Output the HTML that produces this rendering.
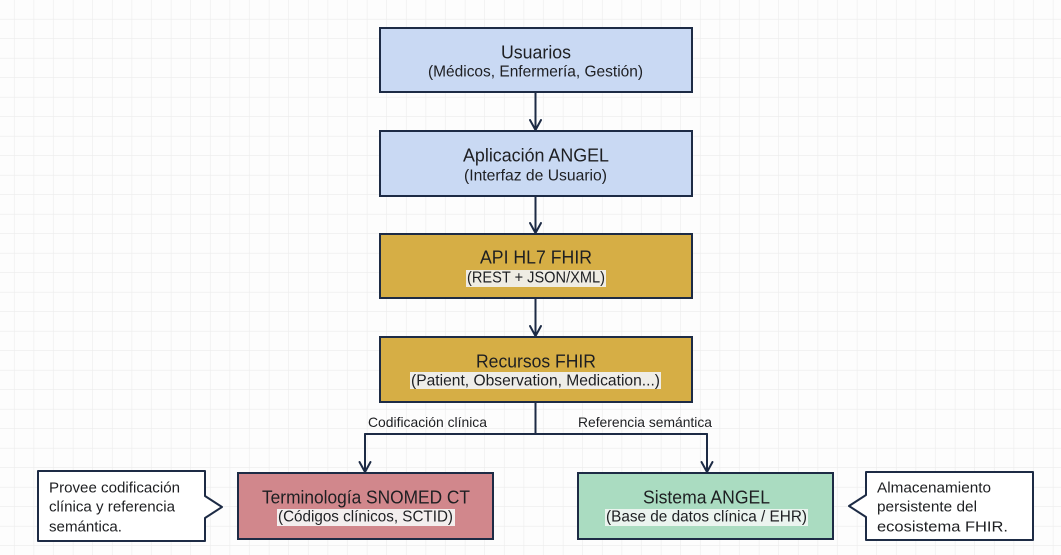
<!DOCTYPE html>
<html>
<head>
<meta charset="utf-8">
<style>
html,body{margin:0;padding:0;background:#fff;}
svg{display:block;}
text{font-family:"Liberation Sans","DejaVu Sans",sans-serif;fill:#1e1f22;}
</style>
</head>
<body>
<svg width="1061" height="555" viewBox="0 0 1061 555" xmlns="http://www.w3.org/2000/svg">
<defs>
<pattern id="g" x="-5" y="0" width="19.6" height="19.5" patternUnits="userSpaceOnUse">
<path d="M19.6 0 V19.5 M0 19.5 H19.6" stroke="#ececec" stroke-width="1.2" fill="none"/>
</pattern>
</defs>
<rect width="1061" height="555" fill="#fdfdfd"/>
<rect width="1061" height="555" fill="url(#g)"/>

<g stroke="#1d2b45" stroke-width="2" fill="none" stroke-linejoin="round" stroke-linecap="round">
<line x1="535.5" y1="92" x2="535.5" y2="130"/>
<path d="M530 120 L535.5 130 L541 120"/>
<line x1="535.5" y1="196" x2="535.5" y2="233"/>
<path d="M530 223 L535.5 233 L541 223"/>
<line x1="535.5" y1="298" x2="535.5" y2="336"/>
<path d="M530 326 L535.5 336 L541 326"/>
<line x1="535.5" y1="402" x2="535.5" y2="434"/>
<line x1="365" y1="434" x2="707" y2="434"/>
<line x1="365" y1="434" x2="365" y2="472"/>
<path d="M359.5 462 L365 472 L370.5 462"/>
<line x1="707" y1="434" x2="707" y2="472"/>
<path d="M701.5 462 L707 472 L712.5 462"/>
</g>

<g stroke="#1d2b45" stroke-width="2">
<rect x="380" y="28" width="312" height="64" fill="#c9d9f3"/>
<rect x="380" y="131" width="312" height="65" fill="#c9d9f3"/>
<rect x="380" y="234" width="312" height="64" fill="#d6ae45"/>
<rect x="380" y="337" width="312" height="65" fill="#d6ae45"/>
<rect x="238" y="473" width="255" height="66" fill="#d1878c"/>
<rect x="578" y="473" width="255" height="66" fill="#aadcc1"/>
<path d="M38 471 H205 V496 L222 507 L205 518 V541 H38 Z" fill="#fff" stroke-linejoin="round"/>
<path d="M866 472 H1033 V540 H866 V517 L849 506 L866 495 Z" fill="#fff" stroke-linejoin="round"/>
</g>

<rect x="466" y="270" width="140" height="17" fill="#efece3"/>
<rect x="410" y="372" width="251" height="17" fill="#efede8"/>
<rect x="277" y="509" width="178" height="17" fill="#f3eeee"/>
<rect x="605" y="509" width="203" height="17" fill="#ebf4ef"/>

<g text-anchor="middle" dominant-baseline="central">
<text x="536" y="52" font-size="18.5" textLength="70" lengthAdjust="spacingAndGlyphs">Usuarios</text>
<text x="535.5" y="72" font-size="16" textLength="215" lengthAdjust="spacingAndGlyphs">(Médicos, Enfermería, Gestión)</text>
<text x="536" y="155" font-size="18.5" textLength="146" lengthAdjust="spacingAndGlyphs">Aplicación ANGEL</text>
<text x="535.5" y="176" font-size="16" textLength="143" lengthAdjust="spacingAndGlyphs">(Interfaz de Usuario)</text>
<text x="536" y="257" font-size="18.5" textLength="112" lengthAdjust="spacingAndGlyphs">API HL7 FHIR</text>
<text x="536" y="278" font-size="16" textLength="138" lengthAdjust="spacingAndGlyphs">(REST + JSON/XML)</text>
<text x="536" y="361" font-size="18.5" textLength="120" lengthAdjust="spacingAndGlyphs">Recursos FHIR</text>
<text x="535.5" y="381" font-size="16" textLength="249" lengthAdjust="spacingAndGlyphs">(Patient, Observation, Medication...)</text>
<text x="366" y="497" font-size="18.5" textLength="208" lengthAdjust="spacingAndGlyphs">Terminología SNOMED CT</text>
<text x="365.5" y="517" font-size="16" textLength="175" lengthAdjust="spacingAndGlyphs">(Códigos clínicos, SCTID)</text>
<text x="706.5" y="497" font-size="18.5" textLength="127" lengthAdjust="spacingAndGlyphs">Sistema ANGEL</text>
<text x="706.5" y="517" font-size="16" textLength="201" lengthAdjust="spacingAndGlyphs">(Base de datos clínica / EHR)</text>
</g>

<g dominant-baseline="central" font-size="14">
<text x="368" y="422" textLength="119" lengthAdjust="spacingAndGlyphs">Codificación clínica</text>
<text x="578" y="422" textLength="134" lengthAdjust="spacingAndGlyphs">Referencia semántica</text>
<text x="49" y="488" font-size="15" textLength="131" lengthAdjust="spacingAndGlyphs">Provee codificación</text>
<text x="49" y="507" font-size="15" textLength="126" lengthAdjust="spacingAndGlyphs">clínica y referencia</text>
<text x="49" y="527" font-size="15" textLength="73" lengthAdjust="spacingAndGlyphs">semántica.</text>
<text x="877" y="488" font-size="15" textLength="114" lengthAdjust="spacingAndGlyphs">Almacenamiento</text>
<text x="877" y="507" font-size="15" textLength="100" lengthAdjust="spacingAndGlyphs">persistente del</text>
<text x="877" y="527" font-size="15" textLength="131" lengthAdjust="spacingAndGlyphs">ecosistema FHIR.</text>
</g>
</svg>
</body>
</html>
